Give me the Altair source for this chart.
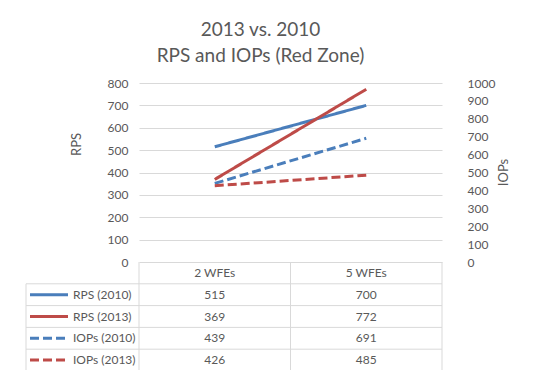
import altair as alt
import pandas as pd

categories = ["2 WFEs", "5 WFEs"]
series = ["RPS (2010)", "RPS (2013)", "IOPs (2010)", "IOPs (2013)"]
rps_2010 = [515, 700]
rps_2013 = [369, 772]
iops_2010 = [439, 691]
iops_2013 = [426, 485]
rps_ticks = list(range(0, 801, 100))
iops_ticks = list(range(0, 1001, 100))
colors = ["#4A7EBB", "#BE4B48", "#4A7EBB", "#BE4B48"]
dashes = [[1, 0], [1, 0], [9, 4], [9, 4]]

values = [rps_2010, rps_2013, iops_2010, iops_2013]
records = []
for s, vals in zip(series, values):
    for c, v in zip(categories, vals):
        records.append({"series": s, "wfe": c, "value": v})
df = pd.DataFrame(records)

FONT = "Lato"
TXT = "#595959"
GRID = "#D9D9D9"
W, H = 303, 179
TABLE_TOP, TABLE_BOT = 179, 288
LABEL_LEFT = -113

series_list = "[" + ",".join("'%s'" % s for s in series) + "]"
row_expr = "indexof(%s, datum.series) + 1.5" % series_list

xenc = alt.X("wfe:N", scale=alt.Scale(type="point", padding=0.5, domain=categories), axis=None)
color = alt.Color("series:N", scale=alt.Scale(domain=series, range=colors), legend=None)
dash = alt.StrokeDash("series:N", scale=alt.Scale(domain=series, range=dashes), legend=None)
trow = alt.Scale(domain=[0, 5], range=[TABLE_TOP, TABLE_BOT])

base = alt.Chart(df)

rps = base.transform_filter(alt.FieldOneOfPredicate(field="series", oneOf=series[:2])).mark_line(
    strokeWidth=3, strokeCap="butt"
).encode(
    x=xenc,
    y=alt.Y("value:Q", scale=alt.Scale(domain=[0, 800], nice=False),
            axis=alt.Axis(values=rps_ticks, format="d", title="RPS", orient="left", grid=True, gridColor=GRID,
                          domain=False, ticks=False, labelPadding=11, labelFontSize=12, labelColor=TXT,
                          labelFont=FONT, titleFont=FONT, titleFontSize=13, titleColor=TXT,
                          titleFontWeight="normal", titleX=-56, titleY=61, titleAngle=270)),
    color=color, strokeDash=dash, detail="series:N",
)

iops = base.transform_filter(alt.FieldOneOfPredicate(field="series", oneOf=series[2:])).mark_line(
    strokeWidth=3, strokeCap="butt"
).encode(
    x=xenc,
    y=alt.Y("value:Q", scale=alt.Scale(domain=[0, 1000], nice=False),
            axis=alt.Axis(values=iops_ticks, format="d", title="IOPs", orient="right", grid=False,
                          domain=False, ticks=False, labelPadding=25, labelFontSize=12, labelColor=TXT,
                          labelFont=FONT, titleFont=FONT, titleFontSize=13, titleColor=TXT,
                          titleFontWeight="normal", titleX=68, titleY=89, titleAngle=270)),
    color=color, strokeDash=dash, detail="series:N",
)

# table horizontal lines
hl = alt.Chart(pd.DataFrame({"b": [1, 2, 3, 4, 5]})).mark_rule(color=GRID, strokeWidth=1).encode(
    y=alt.Y("b:Q", scale=trow, axis=None),
    x=alt.value(LABEL_LEFT), x2=alt.value(W),
)
one = pd.DataFrame({"k": [0]})
vlines = []
for xv, top in [(0, TABLE_TOP), (W / 2, TABLE_TOP), (W, TABLE_TOP), (LABEL_LEFT, TABLE_TOP + (TABLE_BOT - TABLE_TOP) / 5)]:
    vlines.append(alt.Chart(one).mark_rule(color=GRID, strokeWidth=1).encode(
        x=alt.value(xv), y=alt.value(top), y2=alt.value(TABLE_BOT)))

header = alt.Chart(pd.DataFrame({"wfe": categories})).transform_calculate(r="0.5").mark_text(
    font=FONT, fontSize=12, color=TXT, baseline="middle"
).encode(x=xenc, y=alt.Y("r:Q", scale=trow, axis=None), text="wfe:N")

cells = base.transform_calculate(r=row_expr).mark_text(
    font=FONT, fontSize=12, color=TXT, baseline="middle"
).encode(x=xenc, y=alt.Y("r:Q", scale=trow, axis=None), text="value:Q")

first = base.transform_filter(alt.datum.wfe == categories[0]).transform_calculate(r=row_expr)
samples = first.mark_rule(strokeWidth=3, strokeCap="butt").encode(
    x=alt.value(-109), x2=alt.value(-71), y=alt.Y("r:Q", scale=trow, axis=None),
    color=color, strokeDash=dash,
)
rowlabels = first.mark_text(font=FONT, fontSize=12, color=TXT, baseline="middle", align="left").encode(
    x=alt.value(-66), y=alt.Y("r:Q", scale=trow, axis=None), text="series:N"
)

chart = alt.layer(rps, iops, hl, *vlines, header, cells, samples, rowlabels).resolve_scale(
    y="independent"
).properties(
    width=W, height=H,
    title=alt.Title(["2013 vs. 2010", "RPS and IOPs (Red Zone)"], anchor="middle", dx=-30,
                    fontSize=19, font=FONT, color=TXT, fontWeight="normal", lineHeight=26, offset=11),
    autosize=alt.AutoSizeParams(type="none"),
    padding={"left": 131, "top": 75, "right": 87, "bottom": 108},
).configure_view(stroke=None)

chart.save("out.html", embed_options={"renderer": "svg", "actions": False})
